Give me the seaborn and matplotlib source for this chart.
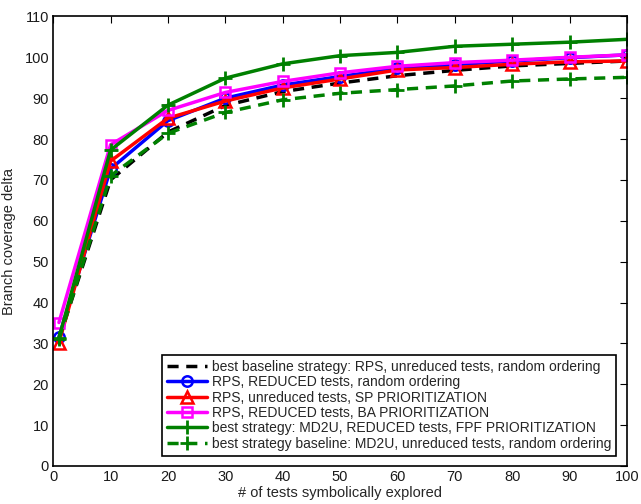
import matplotlib
matplotlib.use("Agg")
import matplotlib.pyplot as plt
import seaborn as sns
import numpy as np

sns.set_style("white")
plt.rcParams['font.family'] = ['Liberation Sans', 'DejaVu Sans']

x = [1, 10, 20, 30, 40, 50, 60, 70, 80, 90, 100]

baseline_rps = [31.0, 70.0, 81.7, 88.2, 91.6, 93.7, 95.5, 96.8, 97.9, 98.5, 99.1]
rps_reduced = [31.6, 72.7, 84.5, 90.0, 93.2, 95.3, 97.3, 98.2, 99.1, 99.9, 100.6]
rps_sp = [30.2, 74.6, 85.1, 89.3, 92.5, 94.7, 96.9, 97.5, 98.3, 98.9, 99.1]
rps_ba = [35.1, 78.6, 87.0, 91.4, 94.1, 96.2, 97.8, 98.7, 99.3, 100.0, 100.6]
md2u_best = [31.3, 77.3, 88.3, 94.9, 98.4, 100.4, 101.2, 102.7, 103.2, 103.7, 104.4]
md2u_base = [31.0, 71.0, 81.4, 86.5, 89.6, 91.2, 92.1, 93.0, 94.2, 94.7, 95.1]

labels = [
    "best baseline strategy: RPS, unreduced tests, random ordering",
    "RPS, REDUCED tests, random ordering",
    "RPS, unreduced tests, SP PRIORITIZATION",
    "RPS, REDUCED tests, BA PRIORITIZATION",
    "best strategy: MD2U, REDUCED tests, FPF PRIORITIZATION",
    "best strategy baseline: MD2U, unreduced tests, random ordering",
]
xticks = list(range(0, 101, 10))
yticks = list(range(0, 111, 10))

fig = plt.figure(figsize=(6.41, 5.04), dpi=100)
ax = fig.add_axes([0.083, 0.0754, 0.895, 0.892])

BLUE, RED, MAG, GREEN = "#0000ff", "#ff0000", "#ff00ff", "#008000"
series = [
    (baseline_rps, dict(color="black", linestyle=(0, (3.2, 2.2)), marker=None)),
    (rps_reduced, dict(color=BLUE, linestyle="-", marker="o", markersize=7.5,
                       markerfacecolor="none", markeredgecolor=BLUE,
                       markeredgewidth=1.8)),
    (rps_sp, dict(color=RED, linestyle="-", marker="^", markersize=8.5,
                  markerfacecolor="none", markeredgecolor=RED,
                  markeredgewidth=1.8)),
    (rps_ba, dict(color=MAG, linestyle="-", marker="s", markersize=7.5,
                  markerfacecolor="none", markeredgecolor=MAG,
                  markeredgewidth=1.8)),
    (md2u_best, dict(color=GREEN, linestyle="-", marker="+", markersize=10,
                     markeredgecolor=GREEN, markeredgewidth=2)),
    (md2u_base, dict(color=GREEN, linestyle=(0, (3.2, 2.2)), marker="+",
                     markersize=10, markeredgecolor=GREEN, markeredgewidth=2)),
]

for (vals, kw), lab in zip(series, labels):
    sns.lineplot(x=x, y=vals, ax=ax, label=lab, linewidth=2.5, **kw)

ax.set_xlim(0, 100)
ax.set_ylim(0, 110)
ax.set_xticks(xticks)
ax.set_yticks(yticks)
ax.tick_params(direction="in", length=5, width=0.8, top=True, right=True,
               labelsize=10.5, colors="black", pad=3)
ax.tick_params(axis="both", which="both", labelcolor="#1a1a1a")
for s in ax.spines.values():
    s.set_color("black")
    s.set_linewidth(1.2)
ax.set_xlabel("# of tests symbolically explored", fontsize=10.5, labelpad=1)
ax.set_ylabel("Branch coverage delta", fontsize=10.5, labelpad=6)

leg = ax.legend(loc="lower right", fontsize=10, frameon=True, fancybox=False,
                edgecolor="black", framealpha=1, handlelength=2.9,
                labelspacing=0.1, borderpad=0.35, handletextpad=0.35,
                borderaxespad=0.75)
leg.get_frame().set_linewidth(1.2)

fig.savefig("out.png", dpi=100)
